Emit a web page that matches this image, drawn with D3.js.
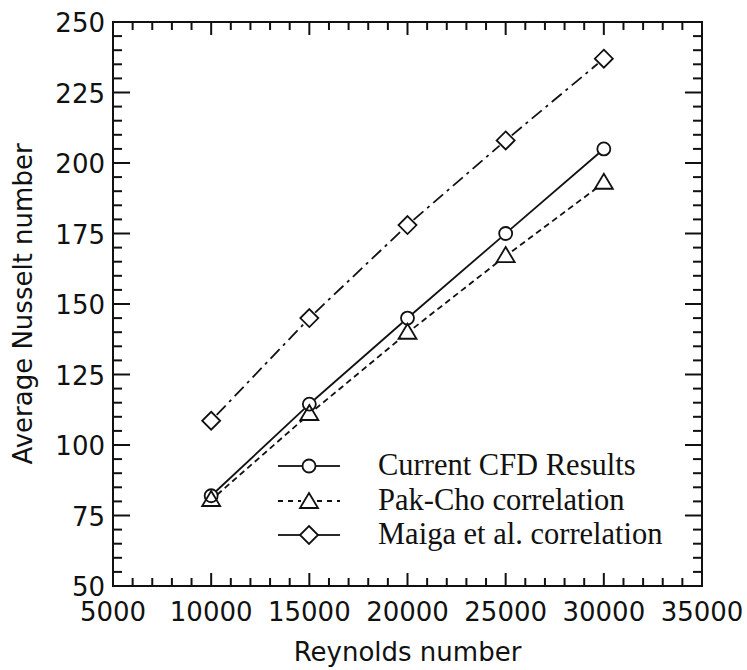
<!DOCTYPE html>
<html><head><meta charset="utf-8">
<script src="https://cdn.jsdelivr.net/npm/d3@7"></script>
<style>body{margin:0;background:#fff}svg{display:block}</style>
</head><body>
<script>
const reynolds = [10000, 15000, 20000, 25000, 30000];
const cfd = [82, 114.5, 145, 175, 205];
const pakCho = [80.5, 111, 139.8, 167, 193];
const maiga = [108.6, 145, 178, 208, 237];
const xTicks = [5000, 10000, 15000, 20000, 25000, 30000, 35000];
const yTicks = [50, 75, 100, 125, 150, 175, 200, 225, 250];
const seriesNames = ["Current CFD Results", "Pak-Cho correlation", "Maiga et al. correlation"];

const W = 747, H = 670;
const L = 113, R = 702, T = 22, B = 586;
const svg = d3.select("body").append("svg").attr("width", W).attr("height", H);
const x = d3.scaleLinear().domain([5000, 35000]).range([L, R]);
const y = d3.scaleLinear().domain([50, 250]).range([B, T]);

const stroke = "#111";
svg.append("rect").attr("x", L).attr("y", T).attr("width", R - L).attr("height", B - T)
  .attr("fill", "none").attr("stroke", stroke).attr("stroke-width", 2);

const xMinor = d3.range(5000, 35001, 1000);
const yMinor = d3.range(50, 251, 5);
const g = svg.append("g").attr("stroke", stroke).attr("stroke-width", 2);
xMinor.forEach(v => {
  const major = v % 5000 === 0;
  const len = major ? 13 : 8;
  g.append("line").attr("x1", x(v)).attr("x2", x(v)).attr("y1", B).attr("y2", B - len);
  g.append("line").attr("x1", x(v)).attr("x2", x(v)).attr("y1", T).attr("y2", T + len);
});
yMinor.forEach(v => {
  const major = v % 25 === 0;
  const len = major ? 17 : 9;
  g.append("line").attr("y1", y(v)).attr("y2", y(v)).attr("x1", L).attr("x2", L + len);
  g.append("line").attr("y1", y(v)).attr("y2", y(v)).attr("x1", R).attr("x2", R - len);
});

const font = "'DejaVu Sans', Verdana, sans-serif";
svg.append("g").selectAll("text").data(xTicks).join("text")
  .attr("x", d => x(d)).attr("y", 621).attr("text-anchor", "middle")
  .attr("font-family", font).attr("font-size", 26).attr("fill", "#111").text(d => d);
svg.append("g").selectAll("text").data(yTicks).join("text")
  .attr("x", 105).attr("y", d => y(d) + 10).attr("text-anchor", "end")
  .attr("font-family", font).attr("font-size", 26).attr("fill", "#111").text(d => d);
svg.append("text").attr("x", (L + R) / 2).attr("y", 661).attr("text-anchor", "middle")
  .attr("font-family", font).attr("font-size", 26).attr("fill", "#111").text("Reynolds number");
svg.append("text").attr("transform", `translate(32,${(T + B) / 2}) rotate(-90)`).attr("text-anchor", "middle")
  .attr("font-family", font).attr("font-size", 26).attr("fill", "#111").text("Average Nusselt number");

const styles = [
  {data: cfd, dash: null, legDash: null, marker: "circle", gap: 7},
  {data: pakCho, dash: "6,4", legDash: "5,5", marker: "triangle", gap: 8},
  {data: maiga, dash: "13,5,3,5", legDash: null, marker: "diamond", gap: 8},
];

function drawMarker(sel, type, cx, cy) {
  if (type === "circle") {
    sel.append("circle").attr("cx", cx).attr("cy", cy).attr("r", 6.5);
  } else if (type === "triangle") {
    sel.append("path").attr("d", `M${cx},${cy - 9}L${cx + 9},${cy + 6}L${cx - 9},${cy + 6}Z`);
  } else {
    sel.append("path").attr("d", `M${cx},${cy - 9}L${cx + 9},${cy}L${cx},${cy + 9}L${cx - 9},${cy}Z`);
  }
}

styles.forEach(s => {
  const pts = reynolds.map((r, i) => [x(r), y(s.data[i])]);
  const lg = svg.append("g").attr("stroke", stroke).attr("stroke-width", 1.8).attr("fill", "none");
  for (let i = 0; i < pts.length - 1; i++) {
    const [x1, y1] = pts[i], [x2, y2] = pts[i + 1];
    const d = Math.hypot(x2 - x1, y2 - y1);
    const ux = (x2 - x1) / d, uy = (y2 - y1) / d;
    const ln = lg.append("line")
      .attr("x1", x1 + ux * s.gap).attr("y1", y1 + uy * s.gap)
      .attr("x2", x2 - ux * s.gap).attr("y2", y2 - uy * s.gap);
    if (s.dash) ln.attr("stroke-dasharray", s.dash);
  }
  const mg = svg.append("g").attr("stroke", stroke).attr("stroke-width", 1.8).attr("fill", "none");
  pts.forEach(p => drawMarker(mg, s.marker, p[0], p[1]));
});

const legY = [466, 501, 535];
styles.forEach((s, i) => {
  const lg = svg.append("g").attr("stroke", stroke).attr("stroke-width", 1.8).attr("fill", "none");
  const cx = 309, cy = legY[i];
  const l1 = lg.append("line").attr("x1", 278).attr("x2", cx - s.gap).attr("y1", cy).attr("y2", cy);
  const l2 = lg.append("line").attr("x1", cx + s.gap).attr("x2", 340).attr("y1", cy).attr("y2", cy);
  if (s.legDash) { l1.attr("stroke-dasharray", s.legDash); l2.attr("stroke-dasharray", s.legDash); }
  drawMarker(lg, s.marker, cx, cy + (s.marker === "triangle" ? 1 : 0));
  svg.append("text").attr("x", 378).attr("y", cy + 9)
    .attr("font-family", "'Liberation Serif', 'Times New Roman', serif").attr("font-size", 30.5)
    .attr("fill", "#111").text(seriesNames[i]);
});
</script>
</body></html>
